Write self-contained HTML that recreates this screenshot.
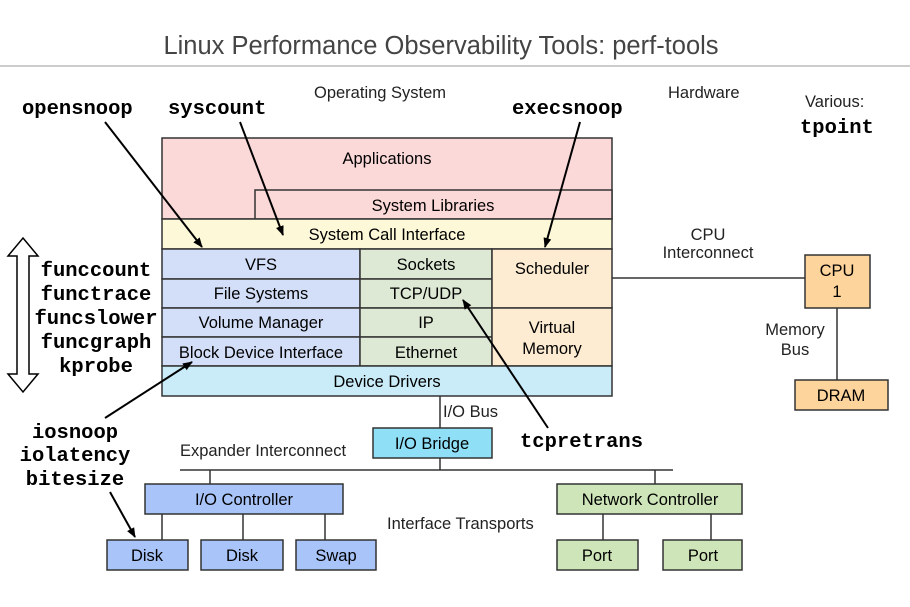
<!DOCTYPE html>
<html><head><meta charset="utf-8"><style>
body{margin:0;background:#fff;}
svg text{font-family:"Liberation Sans",Arial,sans-serif;}
.m{font-family:"Liberation Mono",monospace !important;font-weight:bold;font-size:20.5px;}
</style></head><body>
<svg width="910" height="602" viewBox="0 0 910 602" xmlns="http://www.w3.org/2000/svg">
<defs><marker id="a" markerWidth="10" markerHeight="10" refX="9" refY="5" orient="auto" markerUnits="userSpaceOnUse"><path d="M0,1 L10,5 L0,9 z" fill="#000"/></marker></defs>
<text x="441" y="54" text-anchor="middle" font-size="25.5" fill="#444">Linux Performance Observability Tools: perf-tools</text>
<line x1="0" y1="66" x2="910" y2="66" stroke="#999" stroke-width="1"/>
<g stroke="#333" stroke-width="1.5">
<rect x="162" y="138" width="450" height="81" fill="#fcd9d9"/>
<rect x="255" y="190" width="357" height="29" fill="#fcd9d9"/>
<rect x="162" y="219" width="450" height="30" fill="#fdf8d8"/>
<rect x="162" y="249" width="198" height="30" fill="#d3dff8"/>
<rect x="162" y="279" width="198" height="29" fill="#d3dff8"/>
<rect x="162" y="308" width="198" height="29" fill="#d3dff8"/>
<rect x="162" y="337" width="198" height="29" fill="#d3dff8"/>
<rect x="360" y="249" width="132" height="30" fill="#dde9d4"/>
<rect x="360" y="279" width="132" height="29" fill="#dde9d4"/>
<rect x="360" y="308" width="132" height="29" fill="#dde9d4"/>
<rect x="360" y="337" width="132" height="29" fill="#dde9d4"/>
<rect x="492" y="249" width="120" height="59" fill="#fdecd2"/>
<rect x="492" y="308" width="120" height="58" fill="#fdecd2"/>
<rect x="162" y="366" width="450" height="30" fill="#c9ecf8"/>
<line x1="612" y1="278" x2="805" y2="278"/>
<rect x="805" y="255" width="65" height="53" fill="#fcd49c"/>
<line x1="837" y1="308" x2="837" y2="380"/>
<rect x="795" y="380" width="93" height="30" fill="#fcd49c"/>
<line x1="440" y1="396" x2="440" y2="428"/>
<rect x="373" y="428" width="119" height="30" fill="#8fdff7"/>
<line x1="440" y1="458" x2="440" y2="470"/>
<line x1="180" y1="470" x2="673" y2="470"/>
<line x1="210" y1="470" x2="210" y2="484"/>
<line x1="655" y1="470" x2="655" y2="484"/>
<rect x="145" y="484" width="198" height="30" fill="#a8c4f8"/>
<line x1="162" y1="514" x2="162" y2="540"/><line x1="243" y1="514" x2="243" y2="540"/><line x1="325" y1="514" x2="325" y2="540"/>
<rect x="107" y="540" width="81" height="30" fill="#a8c4f8"/>
<rect x="201" y="540" width="82" height="30" fill="#a8c4f8"/>
<rect x="296" y="540" width="80" height="30" fill="#a8c4f8"/>
<rect x="557" y="484" width="185" height="30" fill="#cde5b8"/>
<line x1="603" y1="514" x2="603" y2="540"/><line x1="711" y1="514" x2="711" y2="540"/>
<rect x="557" y="540" width="81" height="30" fill="#cde5b8"/>
<rect x="663" y="540" width="79" height="30" fill="#cde5b8"/>
</g>
<g font-size="16.5" text-anchor="middle" fill="#000">
<text x="387" y="164">Applications</text>
<text x="433" y="211">System Libraries</text>
<text x="387" y="240">System Call Interface</text>
<text x="261" y="270">VFS</text>
<text x="261" y="299">File Systems</text>
<text x="261" y="328">Volume Manager</text>
<text x="261" y="358">Block Device Interface</text>
<text x="426" y="270">Sockets</text>
<text x="426" y="299">TCP/UDP</text>
<text x="426" y="328">IP</text>
<text x="426" y="358">Ethernet</text>
<text x="552" y="274">Scheduler</text>
<text x="552" y="333">Virtual</text><text x="552" y="354">Memory</text>
<text x="387" y="387">Device Drivers</text>
<text x="837" y="276">CPU</text><text x="837" y="297">1</text>
<text x="841" y="401">DRAM</text>
<text x="432" y="449">I/O Bridge</text>
<text x="244" y="505">I/O Controller</text>
<text x="147" y="561">Disk</text><text x="242" y="561">Disk</text><text x="336" y="561">Swap</text>
<text x="650" y="505">Network Controller</text>
<text x="597" y="561">Port</text><text x="703" y="561">Port</text>
</g>
<g font-size="16.5" fill="#222">
<text x="314" y="98">Operating System</text>
<text x="668" y="98">Hardware</text>
<text x="805" y="107">Various:</text>
<text x="708" y="240" text-anchor="middle">CPU</text><text x="708" y="258" text-anchor="middle">Interconnect</text>
<text x="795" y="335" text-anchor="middle">Memory</text><text x="795" y="355" text-anchor="middle">Bus</text>
<text x="443" y="417">I/O Bus</text>
<text x="180" y="456">Expander Interconnect</text>
<text x="387" y="529">Interface Transports</text>
</g>
<g fill="#000">
<text class="m" x="22" y="114">opensnoop</text>
<text class="m" x="168" y="114">syscount</text>
<text class="m" x="512" y="114">execsnoop</text>
<text class="m" x="800" y="133">tpoint</text>
<text class="m" x="96" y="276" text-anchor="middle">funccount</text>
<text class="m" x="96" y="300" text-anchor="middle">functrace</text>
<text class="m" x="96" y="324" text-anchor="middle">funcslower</text>
<text class="m" x="96" y="348" text-anchor="middle">funcgraph</text>
<text class="m" x="96" y="372" text-anchor="middle">kprobe</text>
<text class="m" x="75" y="438" text-anchor="middle">iosnoop</text>
<text class="m" x="75" y="461" text-anchor="middle">iolatency</text>
<text class="m" x="75" y="485" text-anchor="middle">bitesize</text>
<text class="m" x="520" y="447">tcpretrans</text>
</g>
<g stroke="#000" stroke-width="2" marker-end="url(#a)">
<line x1="105" y1="122" x2="202" y2="247"/>
<line x1="240" y1="122" x2="283" y2="235"/>
<line x1="580" y1="122" x2="545" y2="247"/>
<line x1="548" y1="428" x2="463" y2="300"/>
<line x1="105" y1="418" x2="192" y2="362"/>
<line x1="110" y1="492" x2="135" y2="537"/>
</g>
<path d="M23,238 L38,256 L29,256 L29,374 L38,374 L23,392 L8,374 L17,374 L17,256 L8,256 Z" fill="#fff" stroke="#000" stroke-width="1.5"/>
</svg>
</body></html>
